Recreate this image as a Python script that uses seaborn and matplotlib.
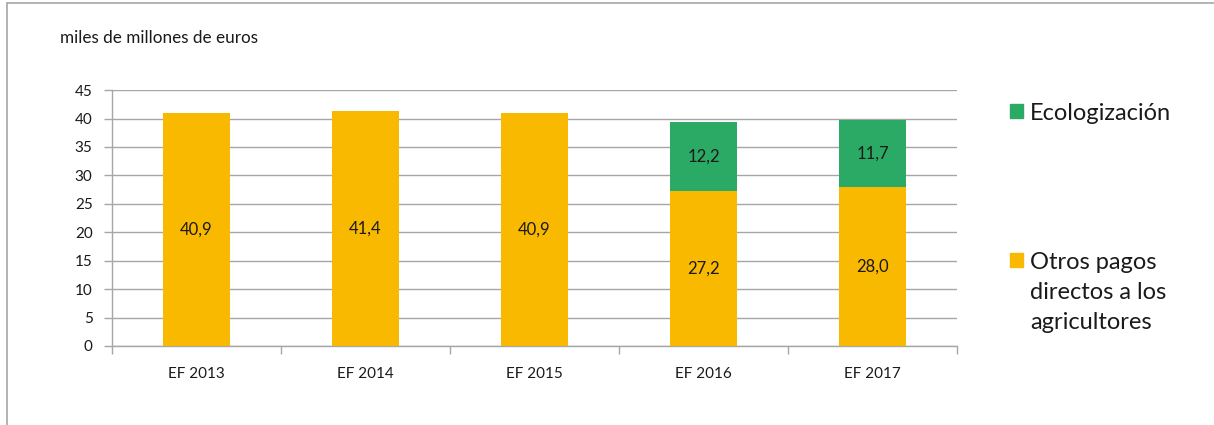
import matplotlib
matplotlib.use("Agg")
import matplotlib.pyplot as plt
import seaborn as sns
import pandas as pd
from matplotlib.patches import Rectangle
from matplotlib.lines import Line2D

# data
years = ["EF 2013", "EF 2014", "EF 2015", "EF 2016", "EF 2017"]
otros_pagos = [40.9, 41.4, 40.9, 27.2, 28.0]
ecologizacion = [0, 0, 0, 12.2, 11.7]
series_names = ["Ecologización", "Otros pagos\ndirectos a los\nagricultores"]
colors = ["#2BAA66", "#F9B900"]

df = pd.DataFrame({"year": years, "otros": otros_pagos, "eco": ecologizacion})
df["total"] = df["otros"] + df["eco"]

sns.set_style("white")
plt.rcParams["font.family"] = ["Lato", "DejaVu Sans"]

fig = plt.figure(figsize=(12.14, 4.25), dpi=100)
ax = fig.add_axes([0.0923, 0.186, 0.696, 0.602])

grid_col = "#A6A6A6"
txt_col = "#1a1a1a"

# stacked bars: total (green) first, then the orange part on top of it
sns.barplot(data=df, x="year", y="total", color=colors[0], width=0.4,
            saturation=1, linewidth=0, ax=ax, zorder=3)
sns.barplot(data=df, x="year", y="otros", color=colors[1], width=0.4,
            saturation=1, linewidth=0, ax=ax, zorder=3)

# value labels in the middle of each segment
for i, row in df.iterrows():
    ax.text(i, row["otros"] / 2, f"{row['otros']:.1f}".replace(".", ","),
            ha="center", va="center", fontsize=12, color=txt_col, zorder=4)
    if row["eco"] > 0:
        ax.text(i, row["otros"] + row["eco"] / 2, f"{row['eco']:.1f}".replace(".", ","),
                ha="center", va="center", fontsize=12, color=txt_col, zorder=4)

ax.set_ylim(0, 45)
ax.set_xlim(-0.5, len(years) - 0.5)
ax.set_yticks(range(0, 46, 5))
ax.yaxis.grid(True, color=grid_col, linewidth=1, zorder=0)
ax.set_axisbelow(True)
ax.set_xlabel("")
ax.set_ylabel("")

for s in ["top", "right"]:
    ax.spines[s].set_visible(False)
for s in ["left", "bottom"]:
    ax.spines[s].set_color(grid_col)
    ax.spines[s].set_linewidth(1)

ax.tick_params(axis="y", left=True, length=6, width=1, color=grid_col,
               labelsize=11, labelcolor=txt_col, pad=8)
ax.tick_params(axis="x", bottom=False, labelsize=11, labelcolor=txt_col, pad=12)

# x tick marks at category boundaries
ax.set_xticks([x - 0.5 for x in range(len(years) + 1)], minor=True)
ax.tick_params(axis="x", which="minor", bottom=True, length=6, width=1, color=grid_col)

fig.text(60 / 1214, 1 - 38 / 425, "miles de millones de euros", fontsize=12.3,
         color=txt_col, va="center", ha="left")

# legend drawn by hand so the square sits on the first text line
leg_y = [111, 260]
for name, col, y in zip(series_names, colors, leg_y):
    fig.add_artist(Rectangle((1010 / 1214, 1 - (y + 7) / 425), 13 / 1214, 14 / 425,
                             transform=fig.transFigure, color=col))
    fig.text(1030 / 1214, 1 - (y - 8) / 425, name, fontsize=17, color=txt_col,
             va="top", ha="left", linespacing=1.52)

# outer frame (top and left edges visible in the reference)
fig.add_artist(Line2D([7 / 1214, 7 / 1214], [0, 1 - 3 / 425], transform=fig.transFigure,
                      color=grid_col, linewidth=1.2))
fig.add_artist(Line2D([7 / 1214, 1], [1 - 3 / 425, 1 - 3 / 425], transform=fig.transFigure,
                      color=grid_col, linewidth=1.2))

fig.savefig("out.png", dpi=100)
